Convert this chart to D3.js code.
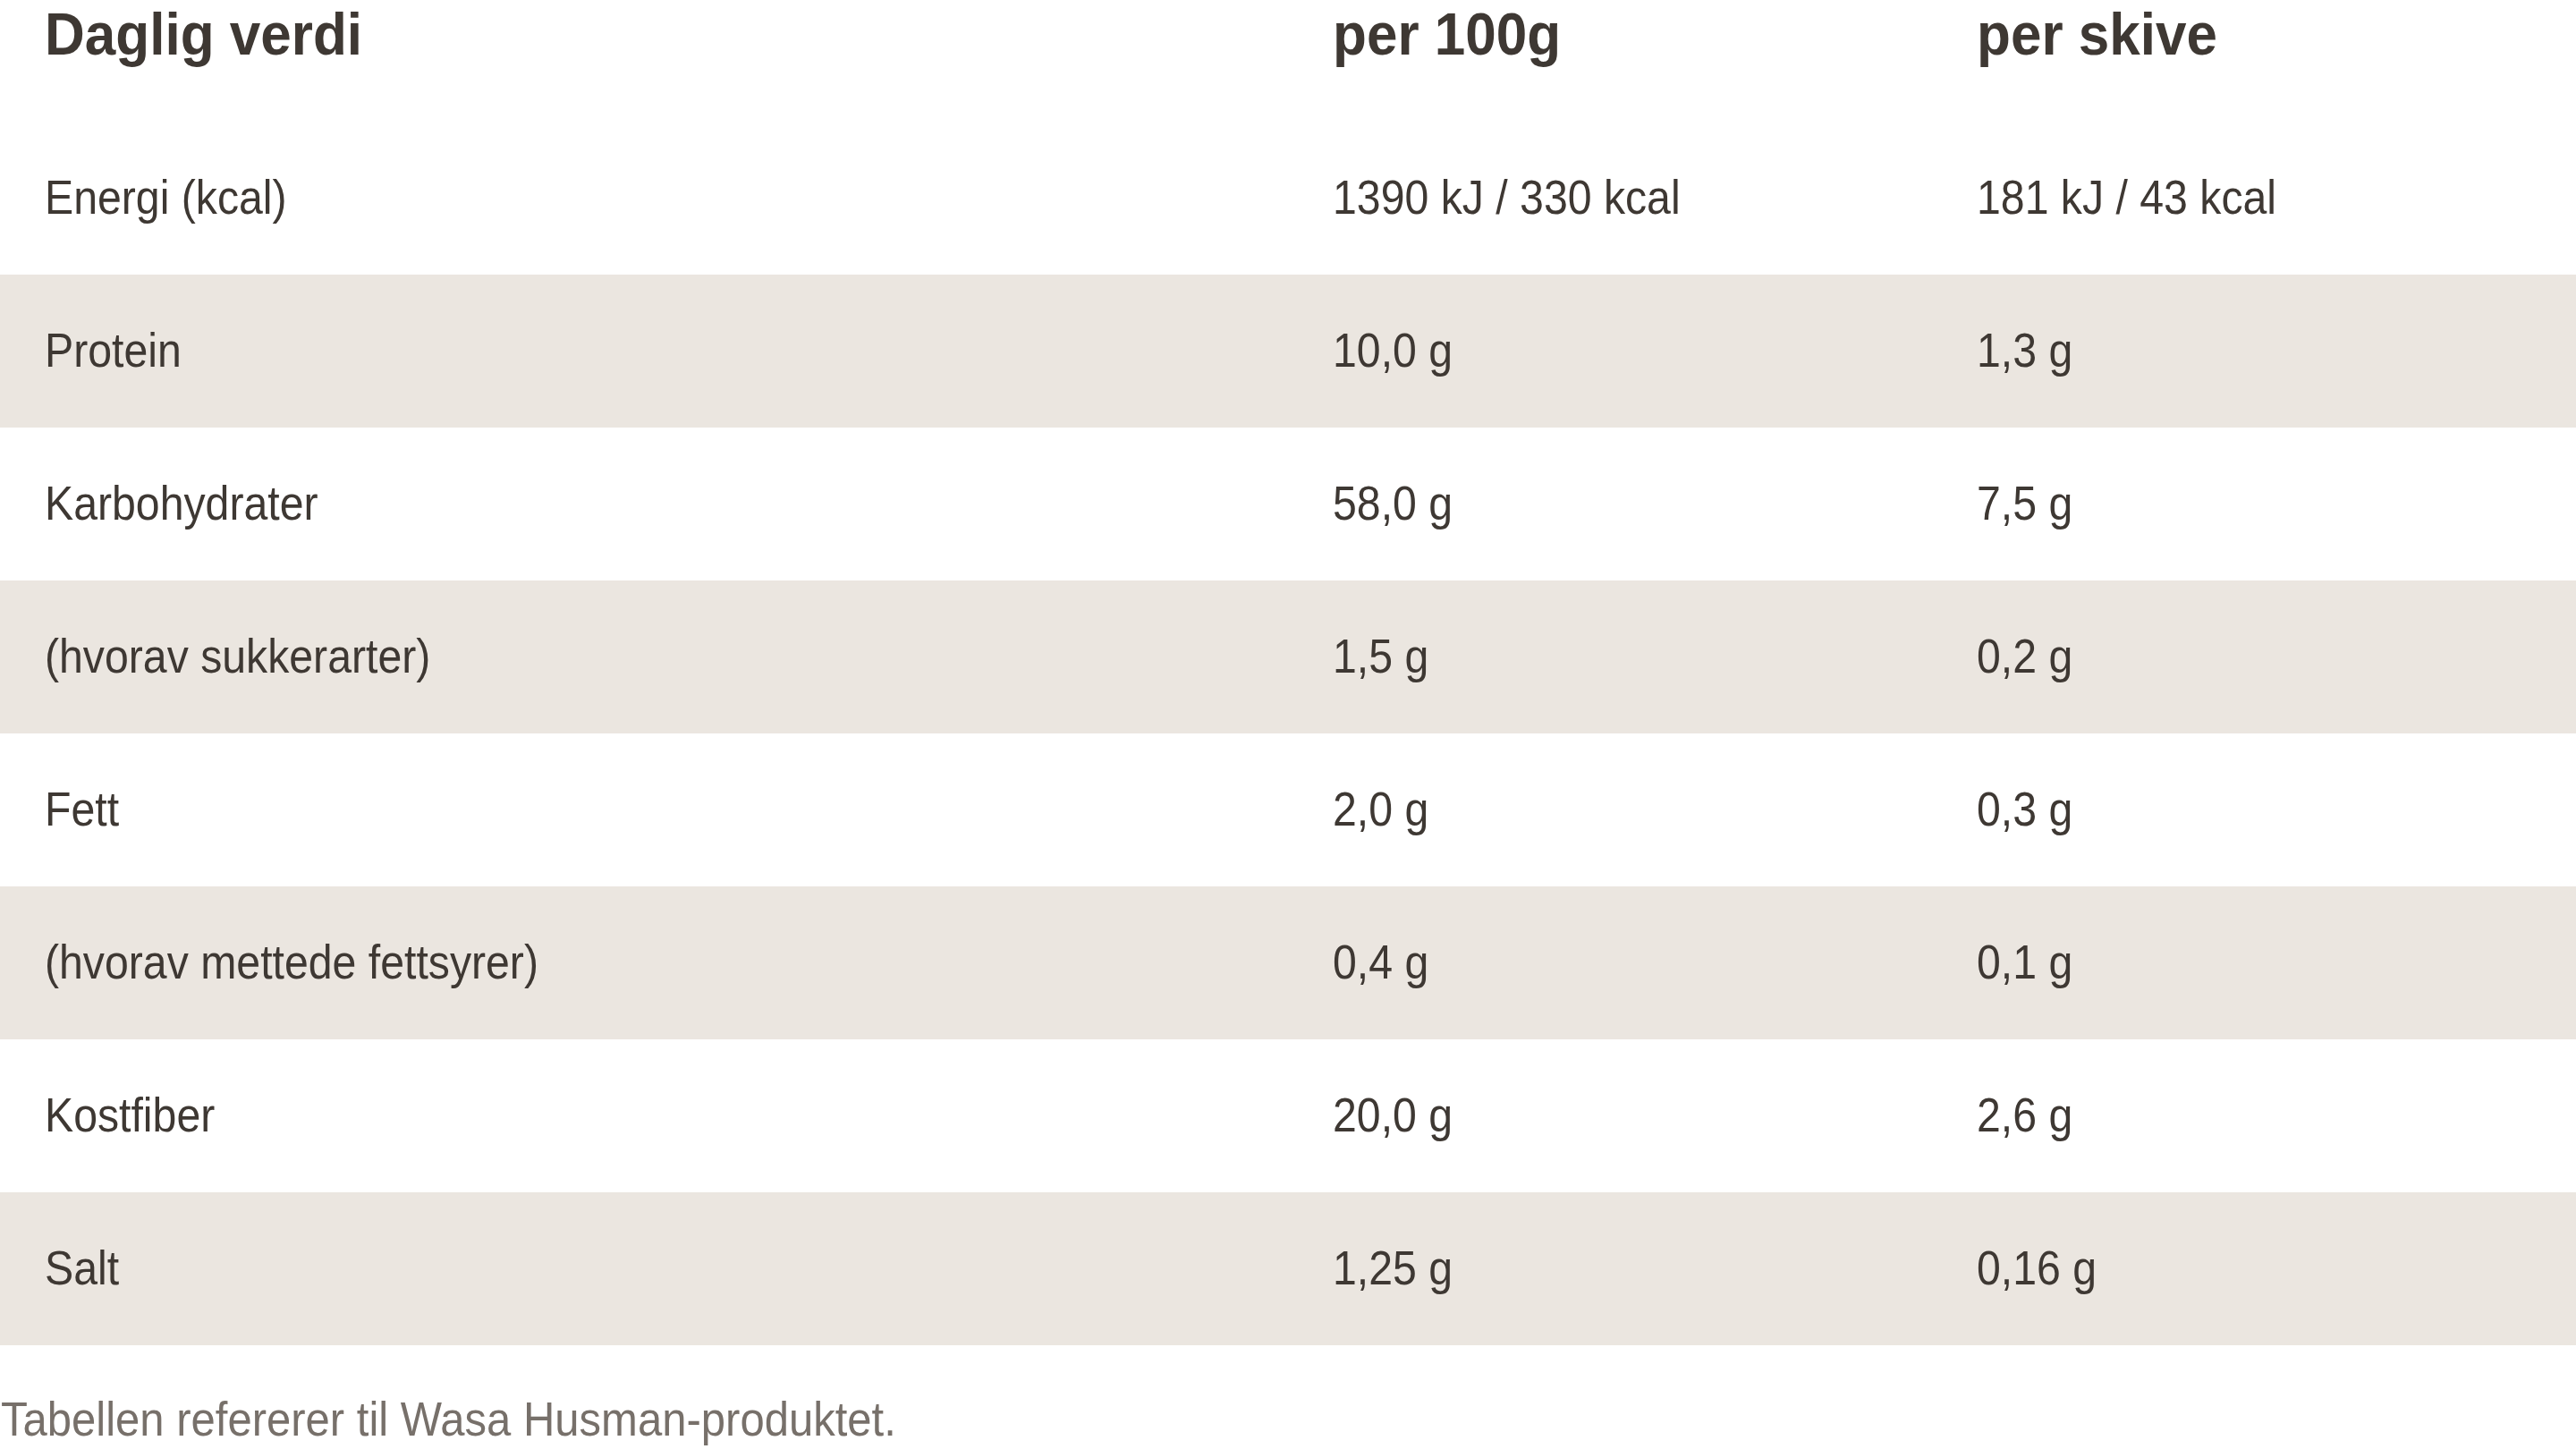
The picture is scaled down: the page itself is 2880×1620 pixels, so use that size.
<!DOCTYPE html>
<html>
<head>
<meta charset="utf-8">
<script src="https://cdn.jsdelivr.net/npm/d3@7"></script>
<style>
  body { margin: 0; background: #fff; }
  svg { display: block; }
  text { font-family: "Liberation Sans", Arial, sans-serif; }
</style>
</head>
<body>
<div id="chart"></div>
<script>
// table data
const headers = ['Daglig verdi', 'per 100g', 'per skive'];
const nutrients = [
  'Energi (kcal)', 'Protein', 'Karbohydrater', '(hvorav sukkerarter)',
  'Fett', '(hvorav mettede fettsyrer)', 'Kostfiber', 'Salt'
];
const per100g = [
  '1390 kJ / 330 kcal', '10,0 g', '58,0 g', '1,5 g',
  '2,0 g', '0,4 g', '20,0 g', '1,25 g'
];
const perSkive = [
  '181 kJ / 43 kcal', '1,3 g', '7,5 g', '0,2 g',
  '0,3 g', '0,1 g', '2,6 g', '0,16 g'
];
const note = 'Tabellen refererer til Wasa Husman-produktet.';

const width = 2880,
  height = 1620,
  textColor = '#3e3833',
  bandColor = '#ebe6e0';

// squeeze fonts horizontally, the original face is a condensed grotesk
const bodyScale = 0.91,
  headScale = 0.94;

const svg = d3
  .select('#chart')
  .append('svg')
  .attr('width', width)
  .attr('height', height)
  .attr('viewBox', [0, 0, width, height]);

// row scale
const y = d3.scaleBand().domain(nutrients).range([136, 1504]).padding(0);

// column scale
const x = d3.scaleOrdinal().domain([0, 1, 2]).range([50, 1490, 2210]);

// zebra bands
svg
  .append('g')
  .attr('class', 'bands')
  .selectAll('rect')
  .data(nutrients)
  .join('rect')
  .attr('x', 0)
  .attr('y', (d) => y(d))
  .attr('width', width)
  .attr('height', y.bandwidth())
  .attr('fill', (d, i) => (i % 2 === 1 ? bandColor : '#fff'));

// header
svg
  .append('g')
  .attr('class', 'header')
  .selectAll('text')
  .data(headers)
  .join('text')
  .attr('transform', (d, i) => `translate(${x(i)},61) scale(${headScale},1)`)
  .attr('font-size', 66)
  .attr('font-weight', 700)
  .attr('fill', textColor)
  .text((d) => d);

// rows
const rows = nutrients.map((d, i) => [d, per100g[i], perSkive[i]]);

const row = svg
  .append('g')
  .attr('class', 'rows')
  .selectAll('g')
  .data(rows)
  .join('g')
  .attr('transform', (d) => `translate(0,${y(d[0]) + y.bandwidth() / 2 + 17})`);

row
  .selectAll('text')
  .data((d) => d)
  .join('text')
  .attr('transform', (d, i) => `translate(${x(i)},0) scale(${bodyScale},1)`)
  .attr('font-size', 53)
  .attr('fill', textColor)
  .text((d) => d);

// footnote
svg
  .append('text')
  .attr('class', 'note')
  .attr('transform', `translate(1,1605) scale(0.925,1)`)
  .attr('font-size', 53)
  .attr('fill', '#77706a')
  .text(note);
</script>
</body>
</html>
